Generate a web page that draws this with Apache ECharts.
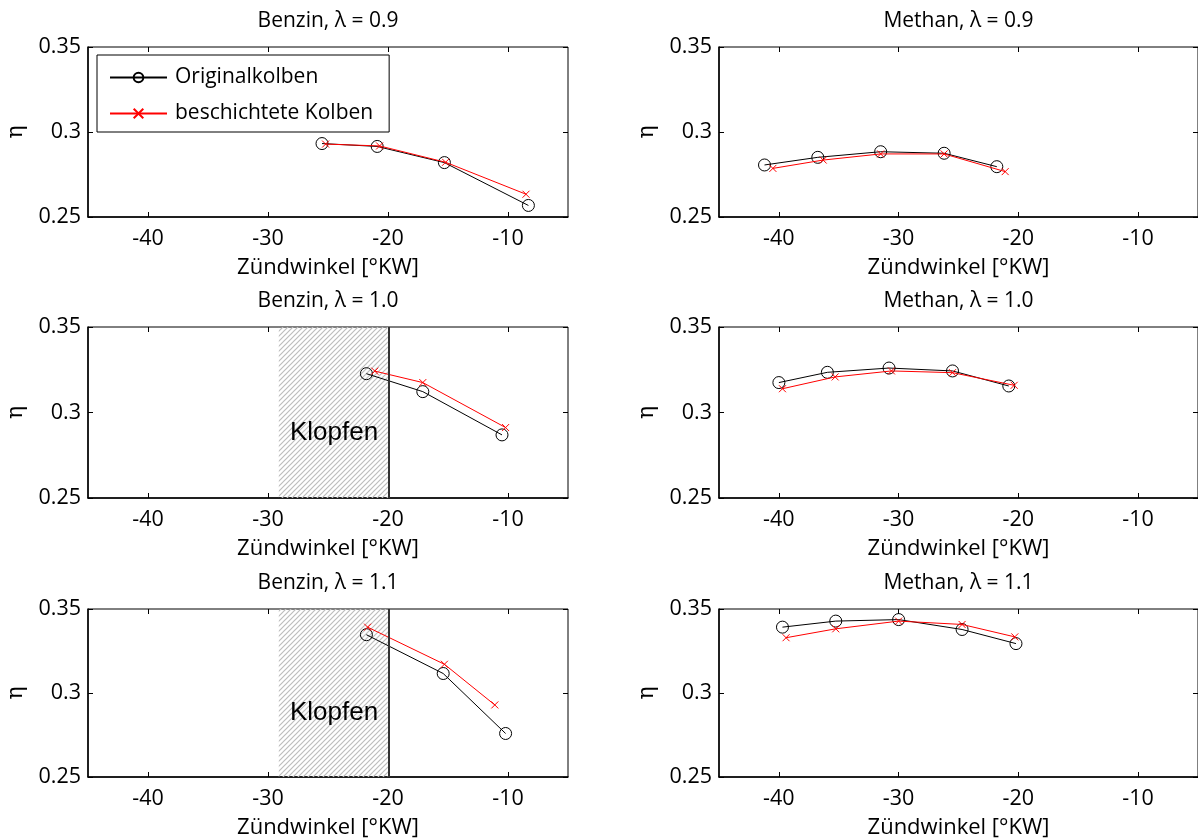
<!DOCTYPE html>
<html><head><meta charset="utf-8">
<script src="https://cdn.jsdelivr.net/npm/echarts@6/dist/echarts.min.js"></script>
<style>html,body{margin:0;padding:0;background:#fff}#c{width:1198px;height:840px}</style>
</head><body><div id="c"></div>
<script>
// ---------- data ----------
const panelTitles = ['Benzin, λ = 0.9', 'Methan, λ = 0.9', 'Benzin, λ = 1.0', 'Methan, λ = 1.0', 'Benzin, λ = 1.1', 'Methan, λ = 1.1'];
const seriesNames = ['Originalkolben', 'beschichtete Kolben'];
const xTickValues = [-40, -30, -20, -10];
const yTickValues = [0.25, 0.3, 0.35];
const xAxisName = 'Zündwinkel [°KW]';
const yAxisName = 'η';

const benzin09OrigX = [-25.5, -20.9, -15.3, -8.3];
const benzin09OrigY = [0.2932, 0.2915, 0.2820, 0.2568];
const benzin09CoatX = [-25.2, -20.7, -15.2, -8.5];
const benzin09CoatY = [0.2929, 0.2918, 0.2822, 0.2634];

const methan09OrigX = [-41.2, -36.75, -31.5, -26.2, -21.8];
const methan09OrigY = [0.2806, 0.2851, 0.2884, 0.2875, 0.2796];
const methan09CoatX = [-40.5, -36.3, -31.5, -26.2, -21.1];
const methan09CoatY = [0.2786, 0.2835, 0.2871, 0.2871, 0.2767];

const benzin10OrigX = [-21.8, -17.1, -10.5];
const benzin10OrigY = [0.3227, 0.3122, 0.2869];
const benzin10CoatX = [-21.1, -17.1, -10.2];
const benzin10CoatY = [0.3242, 0.3175, 0.2912];

const methan10OrigX = [-40.0, -35.95, -30.8, -25.5, -20.8];
const methan10OrigY = [0.3175, 0.3235, 0.3260, 0.3243, 0.3155];
const methan10CoatX = [-39.7, -35.3, -30.6, -25.5, -20.35];
const methan10CoatY = [0.3139, 0.3208, 0.3243, 0.3233, 0.3159];

const benzin11OrigX = [-21.8, -15.4, -10.2];
const benzin11OrigY = [0.3347, 0.3116, 0.2759];
const benzin11CoatX = [-21.7, -15.3, -11.1];
const benzin11CoatY = [0.3392, 0.3171, 0.2929];

const methan11OrigX = [-39.7, -35.25, -30.0, -24.7, -20.2];
const methan11OrigY = [0.3392, 0.3428, 0.3437, 0.3378, 0.3294];
const methan11CoatX = [-39.4, -35.25, -30.0, -24.7, -20.3];
const methan11CoatY = [0.3329, 0.3382, 0.3428, 0.3408, 0.3334];

const knockStart = -29.1;
const knockLimit = -19.9;
const knockLabel = 'Klopfen';
const knockPanels = [2, 4];

// ---------- layout / build ----------
const panels = [
  [benzin09OrigX, benzin09OrigY, benzin09CoatX, benzin09CoatY],
  [methan09OrigX, methan09OrigY, methan09CoatX, methan09CoatY],
  [benzin10OrigX, benzin10OrigY, benzin10CoatX, benzin10CoatY],
  [methan10OrigX, methan10OrigY, methan10CoatX, methan10CoatY],
  [benzin11OrigX, benzin11OrigY, benzin11CoatX, benzin11CoatY],
  [methan11OrigX, methan11OrigY, methan11CoatX, methan11CoatY]
];
const colLeft = [88, 719], colWidth = [480, 479];
const rowTop = [47, 327, 609], rowHeight = [170, 171, 170];
const FONT = 'Open Sans';

function zip(a, b) { return a.map((v, i) => [v, b[i]]); }
function hatchCanvas() {
  const s = 5, c = document.createElement('canvas');
  c.width = s; c.height = s;
  const g = c.getContext('2d');
  g.strokeStyle = '#bdbdbd'; g.lineWidth = 1.2;
  g.beginPath();
  g.moveTo(-1, s + 1); g.lineTo(s + 1, -1);
  g.moveTo(-1, 1); g.lineTo(1, -1);
  g.moveTo(s - 1, s + 1); g.lineTo(s + 1, s - 1);
  g.stroke();
  return c;
}
const hatch = hatchCanvas();
const xSymbol = 'path://M0,0L10,10M0,10L10,0';

const grid = [], xAxis = [], yAxis = [], series = [], title = [];
panels.forEach((p, i) => {
  const col = i % 2, row = Math.floor(i / 2);
  grid.push({ left: colLeft[col], top: rowTop[row], width: colWidth[col], height: rowHeight[row],
    show: true, borderColor: '#000', borderWidth: 1, backgroundColor: 'transparent' });
  title.push({ text: panelTitles[i], left: colLeft[col] + colWidth[col] / 2, textAlign: 'center',
    top: rowTop[row] - 36, padding: 0,
    textStyle: { fontFamily: FONT, fontSize: 21, fontWeight: 'normal', color: '#000' } });
  xAxis.push({ type: 'value', gridIndex: i, min: -45, max: -5, position: 'bottom',
    name: xAxisName, nameLocation: 'middle', nameGap: 40,
    nameTextStyle: { fontFamily: FONT, fontSize: 22, color: '#000' },
    axisLine: { show: true, onZero: false, lineStyle: { color: '#000', width: 1.5 } },
    axisTick: { show: true, inside: true, length: 5, customValues: xTickValues, lineStyle: { color: '#000' } },
    axisLabel: { customValues: xTickValues, margin: 11, fontFamily: FONT, fontSize: 21.5, color: '#000' },
    splitLine: { show: false } });
  xAxis.push({ type: 'value', gridIndex: i, min: -45, max: -5, position: 'top',
    axisLine: { show: false },
    axisTick: { show: true, inside: true, length: 5, customValues: xTickValues, lineStyle: { color: '#000' } },
    axisLabel: { show: false }, splitLine: { show: false } });
  yAxis.push({ type: 'value', gridIndex: i, min: 0.25, max: 0.35, position: 'left',
    name: yAxisName, nameLocation: 'middle', nameGap: 61, nameRotate: 90,
    nameTextStyle: { fontFamily: 'DejaVu Serif', fontSize: 22, color: '#000' },
    axisLine: { show: true, onZero: false, lineStyle: { color: '#000', width: 1.5 } },
    axisTick: { show: true, inside: true, length: 5, customValues: yTickValues, lineStyle: { color: '#000' } },
    axisLabel: { customValues: yTickValues, margin: 7, fontFamily: FONT, fontSize: 21.5, color: '#000' },
    splitLine: { show: false } });
  yAxis.push({ type: 'value', gridIndex: i, min: 0.25, max: 0.35, position: 'right',
    axisLine: { show: false },
    axisTick: { show: true, inside: true, length: 5, customValues: yTickValues, lineStyle: { color: '#000' } },
    axisLabel: { show: false }, splitLine: { show: false } });

  if (knockPanels.includes(i)) {
    series.push({ type: 'line', name: 'knock', data: [], xAxisIndex: i * 2, yAxisIndex: i * 2, z: 1, silent: true,
      markArea: { silent: true,
        itemStyle: { color: { image: hatch, repeat: 'repeat' }, opacity: 1 },
        label: { show: true, position: 'inside', formatter: knockLabel, offset: [0, 20],
          fontFamily: 'Liberation Sans', fontSize: 26, color: '#000' },
        data: [[{ xAxis: knockStart }, { xAxis: knockLimit }]] },
      markLine: { silent: true, symbol: ['none', 'none'], label: { show: false },
        lineStyle: { color: '#333', width: 2, type: 'solid' },
        data: [{ xAxis: knockLimit }] } });
  }
  series.push({ type: 'line', name: seriesNames[0], data: zip(p[0], p[1]), xAxisIndex: i * 2, yAxisIndex: i * 2, z: 3,
    symbol: 'circle', symbolSize: 12, showAllSymbol: true,
    lineStyle: { color: '#000', width: 1 },
    itemStyle: { color: 'transparent', borderColor: '#000', borderWidth: 1 } });
  series.push({ type: 'line', name: seriesNames[1], data: zip(p[2], p[3]), xAxisIndex: i * 2, yAxisIndex: i * 2, z: 4,
    symbol: xSymbol, symbolSize: 7, showAllSymbol: true,
    lineStyle: { color: '#f00', width: 1 },
    itemStyle: { color: '#f00', borderColor: '#f00', borderWidth: 1 } });
});

const chart = echarts.init(document.getElementById('c'), null, { renderer: 'canvas' });
chart.setOption({
  animation: false,
  backgroundColor: '#fff',
  title, grid, xAxis, yAxis, series,
  legend: { data: seriesNames, orient: 'vertical', left: 97, top: 55, padding: [12, 16, 8, 12],
    itemGap: 15, itemWidth: 57, itemHeight: 12, selectedMode: false,
    borderColor: '#000', borderWidth: 1, backgroundColor: '#fff',
    textStyle: { fontFamily: FONT, fontSize: 21, color: '#000', padding: [0, 0, 0, 3] } }
});
</script></body></html>
